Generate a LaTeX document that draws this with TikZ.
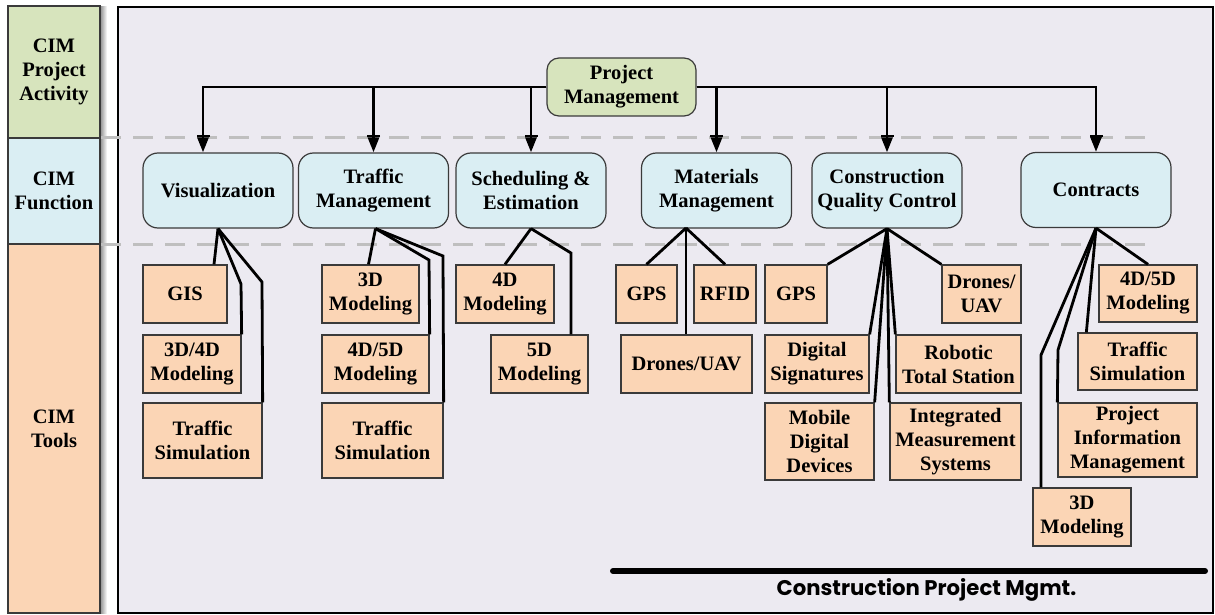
\documentclass[tikz,border=0pt]{standalone}
\usepackage{fontspec}
\setmainfont{LiberationSerif}[Extension=.ttf, UprightFont=*-Regular, BoldFont=*-Bold]
\newfontfamily\gothic{Poppins}
\usetikzlibrary{arrows.meta}
\definecolor{pmgreen}{HTML}{D7E4BD}
\definecolor{fnblue}{HTML}{DAEEF3}
\definecolor{toolorange}{HTML}{FBD5B5}
\definecolor{panel}{HTML}{ECEAF1}
\definecolor{guide}{HTML}{BFBFBF}
\definecolor{edge}{HTML}{3A3A3A}

\begin{document}
\begin{tikzpicture}[x=1pt,y=-1pt,
  lbl/.style={font=\fontsize{20.5}{24}\selectfont\bfseries, align=center},
  band/.style={draw=edge, line width=1.3pt},
  fnbox/.style={lbl, draw=edge, line width=1.2pt, fill=fnblue, rounded corners=15pt,
    minimum width=150pt, minimum height=75pt, inner sep=0pt},
  pmbox/.style={lbl, draw=edge, line width=1.2pt, fill=pmgreen, rounded corners=12pt,
    minimum width=149pt, minimum height=58pt, inner sep=0pt},
  tool/.style={lbl, draw=edge, line width=1.3pt, fill=toolorange, inner sep=0pt},
  wh/.style 2 args={minimum width=#1pt, minimum height=#2pt},
  link/.style={line width=2.8pt, black},
  feed/.style={link, -{Bar[width=13pt,line width=2pt] Triangle[width=11pt,length=15pt,sep=0pt]}},
  guideline/.style={guide, line width=3pt, dash pattern=on 20pt off 12pt},
]
\useasboundingbox (0,0) rectangle (1215,615);

% main panel
\draw[fill=panel, line width=2pt] (118,7) rectangle (1213,613);

% row labels on the left
\shade[left color=black!45, right color=white] (100,7) rectangle (107,613);
\draw[band, fill=pmgreen] (8,6) rectangle (100,138);
\draw[band, fill=fnblue] (8,138) rectangle (100,244);
\draw[band, fill=toolorange] (8,244) rectangle (100,613);
\node[lbl] (rowact) at (54,72) {CIM\\Project\\Activity};
\node[lbl] (rowfn) at (54,191) {CIM\\Function};
\node[lbl] (rowtool) at (54,429) {CIM\\Tools};

% row separators
\coordinate (g1a) at (101,138); \coordinate (g1b) at (1148,138);
\coordinate (g2a) at (101,244); \coordinate (g2b) at (1148,244);
\draw[guideline] (g1a) -- (g1b);
\draw[guideline] (g2a) -- (g2b);

% activity
\node[pmbox] (pm) at (621.5,87) {Project\\Management};

% functions
\node[fnbox] (vis) at (218,190.5) {Visualization};
\node[fnbox] (tm)  at (373.5,190.5) {Traffic\\Management};
\node[fnbox] (se)  at (531,190.5) {Scheduling \&\\Estimation};
\node[fnbox] (mm)  at (716.5,190.5) {Materials\\Management};
\node[fnbox] (cqc) at (887,190.5) {Construction\\Quality Control};
\node[fnbox] (con) at (1096,190) {Contracts};

% tools: visualization
\node[tool, wh={84}{58}]  (gis)  at (185,294) {GIS};
\node[tool, wh={98}{58}]  (vm34) at (192,364) {3D/4D\\Modeling};
\node[tool, wh={119}{75}] (vts)  at (202.5,440.5) {Traffic\\Simulation};
% tools: traffic management
\node[tool, wh={97}{58}]  (t3d) at (370.5,294) {3D\\Modeling};
\node[tool, wh={107}{58}] (t45) at (375.5,364) {4D/5D\\Modeling};
\node[tool, wh={121}{75}] (tts) at (382.5,440.5) {Traffic\\Simulation};
% tools: scheduling
\node[tool, wh={98}{58}] (s4d) at (505,294) {4D\\Modeling};
\node[tool, wh={97}{58}] (s5d) at (539.5,364) {5D\\Modeling};
% tools: materials
\node[tool, wh={61}{58}]  (mgps) at (646.5,294) {GPS};
\node[tool, wh={62}{58}]  (rfid) at (725,294) {RFID};
\node[tool, wh={131}{58}] (mdr)  at (686.5,364) {Drones/UAV};
% tools: quality control
\node[tool, wh={62}{58}]  (cgps) at (796,294) {GPS};
\node[tool, wh={79}{58}]  (cdr)  at (981.5,294) {Drones/\\UAV};
\node[tool, wh={104}{58}] (dsig) at (817,364) {Digital\\Signatures};
\node[tool, wh={125}{58}] (rts)  at (958.5,364) {Robotic\\Total Station};
\node[tool, wh={109}{77}] (mob)  at (819.5,441.5) {Mobile\\Digital\\Devices};
\node[tool, wh={131}{77}] (ims)  at (955.5,441.5) {Integrated\\Measurement\\Systems};
% tools: contracts
\node[tool, wh={98}{57}]  (k45) at (1148,293.5) {4D/5D\\Modeling};
\node[tool, wh={119}{57}] (kts) at (1137.5,361.5) {Traffic\\Simulation};
\node[tool, wh={139}{74}] (pim) at (1127.5,440) {Project\\Information\\Management};
\node[tool, wh={98}{58}]  (k3d) at (1082,517) {3D\\Modeling};

% activity -> functions
\draw[feed] (pm.west) -| ([xshift=-15]vis.north);
\draw[feed] (pm.west) -| (tm.north);
\draw[feed] (pm.west) -| (se.north);
\draw[feed] (pm.east) -| (mm.north);
\draw[feed] (pm.east) -| (cqc.north);
\draw[feed] (pm.east) -| (con.north);

% visualization -> tools
\coordinate (vb2) at (241,284);
\coordinate (vb3) at (262,282);
\draw[link] (vis.south) -- ([xshift=29]gis.north);
\draw[link] (vis.south) -- (vb2) -- (vm34.north east);
\draw[link] (vis.south) -- (vb3) -- (vts.north east);

% traffic management -> tools
\coordinate (tb2) at (429,260);
\coordinate (tb3) at (443,256);
\draw[link] ([xshift=2]tm.south) -- ([xshift=-2]t3d.north);
\draw[link] ([xshift=2]tm.south) -- (tb2) -- (t45.north east);
\draw[link] ([xshift=2]tm.south) -- (tb3) -- (tts.north east);

% scheduling -> tools
\coordinate (sb2) at (571,253);
\draw[link] (se.south) -- (s4d.north);
\draw[link] (se.south) -- (sb2) -- (sb2 |- s5d.north);

% materials -> tools
\coordinate (mo) at (686,228);
\draw[link] (mo) -- (mgps.north);
\draw[link] (mo) -- (rfid.north);
\draw[link] (mo) -- (mo |- mdr.north);

% quality control -> tools
\draw[link] (cqc.south) -- (cgps.north east);
\draw[link] (cqc.south) -- (cdr.north west);
\draw[link] (cqc.south) -- (dsig.north east);
\draw[link] (cqc.south) -- (rts.north west);
\draw[link] (cqc.south) -- (mob.north east);
\draw[link] (cqc.south) -- (ims.north west);

% contracts -> tools
\coordinate (kb3) at (1058,350);
\coordinate (kb4) at (1041,355);
\draw[link] (con.south) -- (k45.north);
\draw[link] (con.south) -- ([xshift=9]kts.north west);
\draw[link] (con.south) -- (kb3) -- (pim.north west);
\draw[link] (con.south) -- (kb4) -- (kb4 |- k3d.north);

% footer
\coordinate (fa) at (613,571);
\coordinate (fb) at (1205,571);
\draw[line width=6pt, line cap=round] (fa) -- (fb);
\node[font=\gothic\bfseries\fontsize{21.2}{24}\selectfont, anchor=base] (foot) at (926.5,595)
  {Construction Project Mgmt.};
\end{tikzpicture}
\end{document}
